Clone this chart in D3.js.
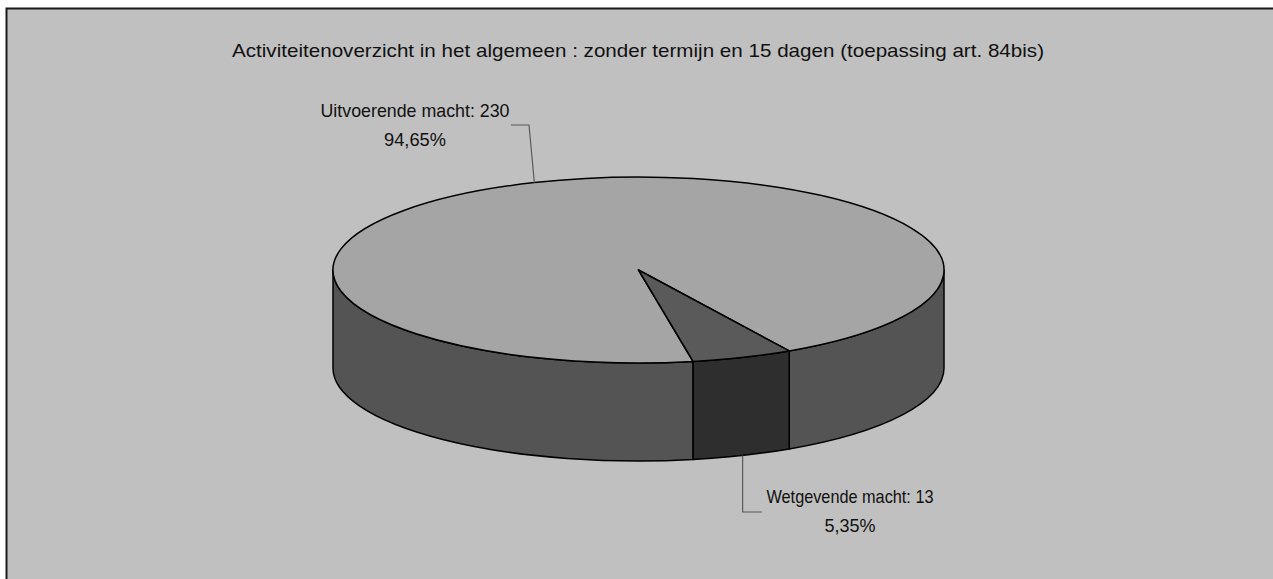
<!DOCTYPE html>
<html>
<head>
<meta charset="utf-8">
<script src="https://cdn.jsdelivr.net/npm/d3@7"></script>
<style>
  html, body { margin: 0; padding: 0; background: #fff; }
  svg { display: block; }
</style>
</head>
<body>
<svg width="1273" height="579"></svg>
<script>
// chart data
var title = "Activiteitenoverzicht in het algemeen : zonder termijn en 15 dagen (toepassing art. 84bis)";
var categories = ["Uitvoerende macht", "Wetgevende macht"];
var values = [230, 13];
var topColors = ["#a5a5a5", "#5a5a5a"];
var sideColors = ["#545454", "#2e2e2e"];

var nl = d3.formatLocale({decimal: ",", thousands: ".", grouping: [3], currency: ["€", ""]});
var pct = nl.format(".2%");

var svg = d3.select("svg");

// frame
svg.append("rect")
  .attr("x", 6.5).attr("y", 8.5)
  .attr("width", 1268).attr("height", 580)
  .attr("fill", "#c0c0c0")
  .attr("stroke", "#1a1a1a").attr("stroke-width", 2);

svg.append("text")
  .attr("x", 638).attr("y", 57)
  .attr("text-anchor", "middle")
  .attr("font-family", "Liberation Sans, Arial, sans-serif")
  .attr("font-size", 19)
  .attr("textLength", 812)
  .attr("lengthAdjust", "spacingAndGlyphs")
  .attr("fill", "#111")
  .text(title);

// 3d pie geometry
var cx = 638.5, cy = 270, rx = 305.5, ry = 93, depth = 98;
var deg = Math.PI / 180;

var pie = d3.pie().sort(null)
  .startAngle(169.7 * deg)
  .endAngle(169.7 * deg + 2 * Math.PI);
var arcs = pie(values);

function pt(a, dy) {
  return [cx + rx * Math.sin(a), cy - ry * Math.cos(a) + (dy || 0)];
}

function sidePath(b0, b1) {
  var p0 = pt(b0), p1 = pt(b1), q1 = pt(b1, depth), q0 = pt(b0, depth);
  var large = (b1 - b0) > Math.PI ? 1 : 0;
  return "M" + p0 + "A" + rx + "," + ry + " 0 " + large + " 1 " + p1 +
    "L" + q1 + "A" + rx + "," + ry + " 0 " + large + " 0 " + q0 + "Z";
}

function topPath(a0, a1) {
  var p0 = pt(a0), p1 = pt(a1);
  var large = (a1 - a0) > Math.PI ? 1 : 0;
  return "M" + [cx, cy] + "L" + p0 + "A" + rx + "," + ry + " 0 " + large + " 1 " + p1 + "Z";
}

// front is where cos(a) < 0 : (90deg, 270deg) + k*360
var sides = svg.append("g");
arcs.forEach(function(d, i){
  for (var k = -1; k <= 2; k++) {
    var f0 = Math.PI / 2 + k * 2 * Math.PI, f1 = f0 + Math.PI;
    var b0 = Math.max(d.startAngle, f0), b1 = Math.min(d.endAngle, f1);
    if (b1 > b0) {
      sides.append("path")
        .attr("d", sidePath(b0, b1))
        .attr("fill", sideColors[i])
        .attr("stroke", "#000").attr("stroke-width", 1.5)
        .attr("stroke-linejoin", "round");
    }
  }
});

svg.append("g").selectAll("path")
  .data(arcs)
  .enter().append("path")
  .attr("d", function(d){ return topPath(d.startAngle, d.endAngle); })
  .attr("fill", function(d, i){ return topColors[i]; })
  .attr("stroke", "#000").attr("stroke-width", 1.5)
  .attr("stroke-linejoin", "round");

// labels
var total = d3.sum(values);
var labelPos = [
  {x: 415, y: 117, lw: 189, pw: 62},
  {x: 850, y: 503, lw: 167, pw: 51}
];

arcs.forEach(function(d, i){
  var lp = labelPos[i];
  var t = svg.append("text")
    .attr("font-family", "Liberation Sans, Arial, sans-serif")
    .attr("font-size", 19)
    .attr("fill", "#111")
    .attr("text-anchor", "middle");
  t.append("tspan").attr("x", lp.x).attr("y", lp.y)
    .attr("textLength", lp.lw).attr("lengthAdjust", "spacingAndGlyphs")
    .text(categories[i] + ": " + values[i]);
  t.append("tspan").attr("x", lp.x).attr("y", lp.y + 29)
    .attr("textLength", lp.pw).attr("lengthAdjust", "spacingAndGlyphs")
    .text(pct(values[i] / total));
});

// leader lines
var mid0 = (arcs[0].startAngle + arcs[0].endAngle) / 2;
var e0 = pt(mid0);
svg.append("path")
  .attr("d", "M511,125L529,125L" + e0)
  .attr("fill", "none").attr("stroke", "#5a5a5a").attr("stroke-width", 1.2);

var mid1 = (arcs[1].startAngle + arcs[1].endAngle) / 2;
var e1 = pt(mid1, depth);
svg.append("path")
  .attr("d", "M" + e1 + "L" + e1[0] + ",512L762,512")
  .attr("fill", "none").attr("stroke", "#5a5a5a").attr("stroke-width", 1.2);
</script>
</body>
</html>
